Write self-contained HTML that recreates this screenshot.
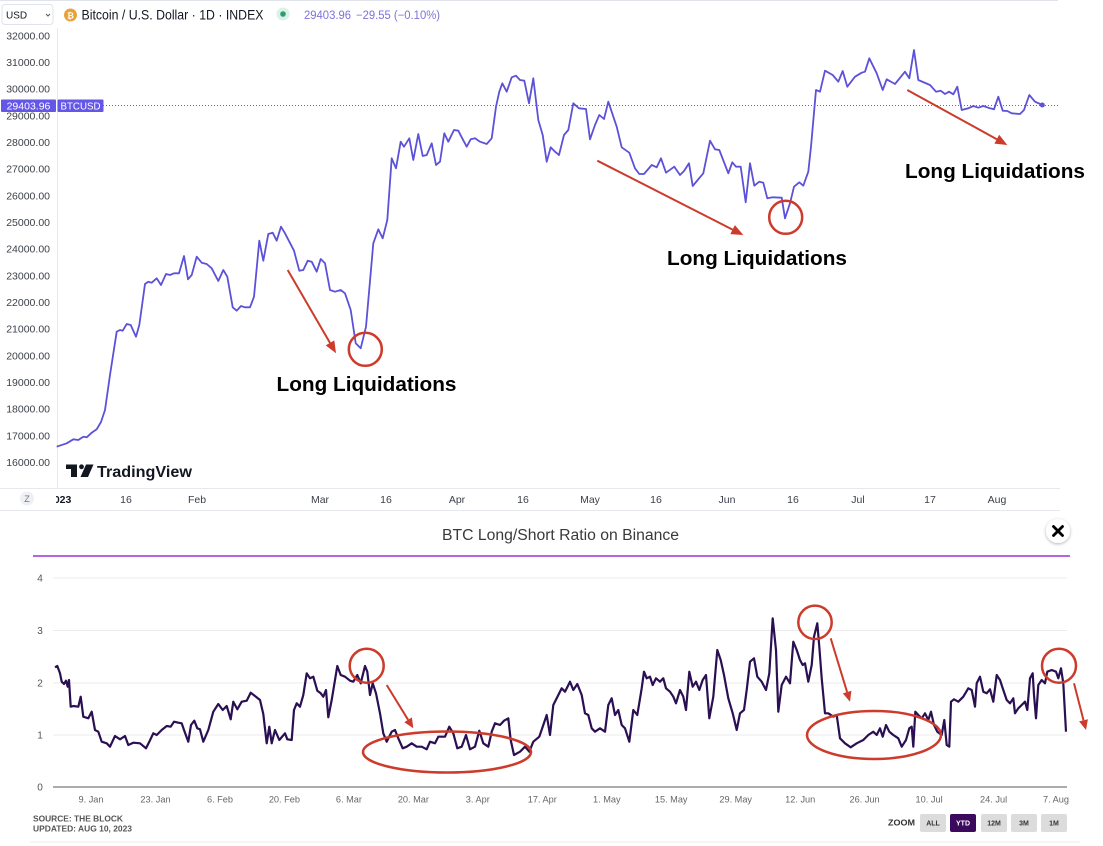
<!DOCTYPE html>
<html><head><meta charset="utf-8">
<style>
html,body{margin:0;padding:0;background:#fff;}
svg{display:block;font-family:"Liberation Sans",Arial,sans-serif;}
</style></head>
<body>
<svg width="1103" height="846" viewBox="0 0 1103 846" xmlns="http://www.w3.org/2000/svg">
<defs>
  <clipPath id="c2023"><rect x="56" y="490" width="40" height="20"/></clipPath>
  <filter id="sh" x="-50%" y="-50%" width="200%" height="200%"><feDropShadow dx="0" dy="1" stdDeviation="1.5" flood-color="#000" flood-opacity="0.3"/></filter>
</defs>
<rect width="1103" height="846" fill="#fff"/>

<!-- ===== TOP CHART ===== -->
<line x1="0" y1="0.5" x2="1058" y2="0.5" stroke="#e0e3eb" stroke-width="1"/>
<!-- header -->
<rect x="2" y="4.5" width="51" height="20" rx="3" fill="#fff" stroke="#e0e3eb"/>
<text x="6" y="18.5" font-size="10" fill="#131722">USD</text>
<path d="M46 14 L48 16 L50 14" fill="none" stroke="#555" stroke-width="1"/>
<circle cx="70.5" cy="15" r="6.5" fill="#e9a23b"/>
<text x="70.5" y="18.5" font-size="8.5" fill="#fff" text-anchor="middle" font-weight="bold">₿</text>
<text x="81.5" y="19.5" font-size="14" fill="#131722" textLength="182" lengthAdjust="spacingAndGlyphs">Bitcoin / U.S. Dollar · 1D · INDEX</text>
<circle cx="283" cy="14" r="6.5" fill="#dcf1e7"/>
<circle cx="283" cy="14" r="2.8" fill="#2e9e6f"/>
<text x="304" y="19" font-size="11.5" fill="#7d72dc" textLength="47" lengthAdjust="spacingAndGlyphs">29403.96</text>
<text x="356" y="19" font-size="11.5" fill="#7d72dc" textLength="84" lengthAdjust="spacingAndGlyphs">−29.55 (−0.10%)</text>

<!-- y axis separator -->
<line x1="57.5" y1="28" x2="57.5" y2="488" stroke="#e6e8ee"/>
<!-- y labels -->
<g font-size="10.5" fill="#3b3f48" text-anchor="end">
<text x="50" y="39.5">32000.00</text>
<text x="50" y="66">31000.00</text>
<text x="50" y="92.7">30000.00</text>
<text x="50" y="119.4">29000.00</text>
<text x="50" y="146">28000.00</text>
<text x="50" y="172.7">27000.00</text>
<text x="50" y="199.4">26000.00</text>
<text x="50" y="226">25000.00</text>
<text x="50" y="252.7">24000.00</text>
<text x="50" y="279.4">23000.00</text>
<text x="50" y="306">22000.00</text>
<text x="50" y="332.7">21000.00</text>
<text x="50" y="359.4">20000.00</text>
<text x="50" y="386">19000.00</text>
<text x="50" y="412.7">18000.00</text>
<text x="50" y="439.4">17000.00</text>
<text x="50" y="466">16000.00</text>
</g>

<!-- dotted price line -->
<line x1="103" y1="105.5" x2="1058" y2="105.5" stroke="#6a5be6" stroke-width="1" stroke-dasharray="1,2"/>
<rect x="1" y="99.5" width="55" height="12.5" rx="1" fill="#6456e6"/>
<text x="28.5" y="109.5" font-size="10.5" fill="#fff" text-anchor="middle">29403.96</text>
<rect x="57.5" y="99.5" width="46" height="12.5" rx="1" fill="#6456e6"/>
<text x="80.5" y="109.3" font-size="10" fill="#fff" text-anchor="middle" textLength="40" lengthAdjust="spacingAndGlyphs">BTCUSD</text>

<!-- price line -->
<polyline fill="none" stroke="#5c51d8" stroke-width="1.8" stroke-linejoin="round" points="56.7,446.7 66.7,443.3 73.3,439.3 78.3,440 83.3,436.7 86.7,437.3 91.7,432.7 96.7,429.3 101,422 105,410 110,375 116.7,331.7 120,330 122.7,330.7 126.7,324 130.7,325 136,336.7 139.3,325 145,284 148.3,281.7 151.7,282.7 156.7,278.3 161,285 166,274 170,275 174,273.3 179,273.3 184,256 188,279.3 191.7,275 196.7,256.7 201.7,262.7 206.7,264 211.7,268.3 218.3,281 223.3,270 227.3,276.7 232.7,307.3 236.7,310.7 241,306 245,307.3 250,307.3 254,296.7 259.3,240.7 263.3,260.7 268.3,234 272.7,232.7 276.7,240.7 281,226.7 285,233.3 294,250.7 299.3,270.7 303.3,270 307.7,260.7 311.7,261.7 316.7,271.7 320.7,259 325,263.3 330,290 335,291.7 340.7,290 345,293.3 350.7,310 355.7,343.3 360.7,348.3 366,326.7 373.3,243.3 378.3,229.3 382.7,238.3 387.3,220 391.7,158.3 396,168.3 400.7,141.7 404,146.7 409.3,138.3 413.3,160 418.3,134 422.7,156 426.7,155 431.7,143.3 436,165 440,161.7 444.3,133.3 448.3,141.7 454,130 458.3,130.7 461.7,137.3 466.7,146.7 470.7,139.3 475,138.3 480,141.7 486.7,144 491.7,138.3 496,106.7 499.3,91.7 502.3,83.3 506.7,91.7 511.7,77.3 516,75.7 520,80 524.3,80.7 529,103.3 533.3,78.3 538.3,120 542.7,135 546.7,161.7 550.7,147.3 555,151.7 559,155 564,135 568.3,130 573.3,103.3 579,108.3 586,109 590,139.3 595,125 599.3,115 604,119 608.3,101.7 616.7,126.7 621.7,147.3 629.3,152.7 635,168.3 639.3,174 644,174 651.7,165 656.7,167.3 661,158.3 666,172.7 674.3,166.7 680,175 684,171 689,163.3 692.7,186 703.3,173.3 710,140.7 715,149.3 719.3,150 728.3,173.3 732.3,162.3 736,166.7 740.7,166.7 745.7,202.3 750,163.3 754.3,185.7 759.3,181.7 763.3,182.7 767.3,198.3 772.7,197.3 781.7,197.7 785,218.3 790,203.3 794,186.7 799.3,182.3 803.3,185.7 808.3,171.7 811,146.7 816,90 820,91.7 825,70.7 832.7,75 838.3,81.7 842.7,71 847.3,86.7 855,76.7 861.7,72.7 865,71.7 869.3,58.3 876.7,73.3 882.7,90 886.7,79.3 895,84 905,71.7 909.3,78.3 914,50 918.3,80 930,85 936,91.7 940.7,90.7 945,94 949,91.7 953.3,94.3 957.3,86.7 961.7,110 968.3,108.3 973.3,106 978.3,107.7 983.3,106 990,108.3 994,109.3 998.3,96.7 1002.7,110.7 1007.3,111 1011.7,113.3 1020,114 1024,110 1029.3,95 1035,101.7 1042.3,105"/>
<circle cx="1042.3" cy="105" r="2.5" fill="#5c51d8"/>

<!-- top annotations -->
<g stroke="#cc3b2b" fill="none">
<line x1="287.7" y1="270" x2="330" y2="342.9" stroke-width="2"/>
<line x1="597.3" y1="160.7" x2="732.6" y2="229.6" stroke-width="2"/>
<line x1="907.3" y1="90" x2="996.8" y2="139.2" stroke-width="2"/>
<circle cx="365.3" cy="349.3" r="16.5" stroke-width="2.5"/>
<circle cx="785.7" cy="217.3" r="16.5" stroke-width="2.5"/>
</g>
<g fill="#cc3b2b">
<polygon points="336,353.3 325.7,345.4 334.3,340.4"/>
<polygon points="743.3,235 730.3,234.1 734.9,225.1"/>
<polygon points="1007.3,145 994.4,143.6 999.2,134.8"/>
</g>
<g font-size="20" font-weight="bold" fill="#000">
<text x="276.5" y="391" textLength="180" lengthAdjust="spacingAndGlyphs">Long Liquidations</text>
<text x="667" y="265" textLength="180" lengthAdjust="spacingAndGlyphs">Long Liquidations</text>
<text x="905" y="178" textLength="180" lengthAdjust="spacingAndGlyphs">Long Liquidations</text>
</g>

<!-- TradingView logo -->
<g fill="#131722">
<rect x="66" y="464.5" width="11" height="4.5"/>
<rect x="71" y="464.5" width="6" height="12.5"/>
<circle cx="81.5" cy="466.8" r="2.4"/>
<polygon points="86,464.5 93.5,464.5 88,477 80.5,477"/>
</g>
<text x="97" y="477" font-size="16" font-weight="bold" fill="#131722" textLength="95" lengthAdjust="spacingAndGlyphs">TradingView</text>

<!-- time axis -->
<line x1="0" y1="488.5" x2="1060" y2="488.5" stroke="#e6e8ee"/>
<line x1="0" y1="510.5" x2="1060" y2="510.5" stroke="#e6e8ee"/>
<circle cx="27" cy="498.5" r="7" fill="#eef0f5"/>
<text x="27" y="502" font-size="9" fill="#777" text-anchor="middle">Z</text>
<g clip-path="url(#c2023)"><text x="48" y="503" font-size="10.5" font-weight="bold" fill="#131722">2023</text></g>
<g font-size="10.5" fill="#3b3f48" text-anchor="middle">
<text x="126" y="503">16</text>
<text x="197" y="503">Feb</text>
<text x="320" y="503">Mar</text>
<text x="386" y="503">16</text>
<text x="457" y="503">Apr</text>
<text x="523" y="503">16</text>
<text x="590" y="503">May</text>
<text x="656" y="503">16</text>
<text x="727" y="503">Jun</text>
<text x="793" y="503">16</text>
<text x="858" y="503">Jul</text>
<text x="930" y="503">17</text>
<text x="997" y="503">Aug</text>
</g>

<!-- ===== BOTTOM CHART ===== -->
<text x="560.5" y="540" font-size="15.5" fill="#3a3a3a" text-anchor="middle" textLength="237" lengthAdjust="spacingAndGlyphs">BTC Long/Short Ratio on Binance</text>
<line x1="33" y1="556" x2="1070" y2="556" stroke="#9b32d6" stroke-width="1.5"/>
<circle cx="1058" cy="531" r="12" fill="#fff" filter="url(#sh)"/>
<path d="M1053.5 526.5 L1062.5 535.5 M1062.5 526.5 L1053.5 535.5" stroke="#000" stroke-width="2.8" stroke-linecap="round"/>

<!-- grid -->
<g stroke="#ebebeb" stroke-width="1">
<line x1="53" y1="578" x2="1067" y2="578"/>
<line x1="53" y1="630.5" x2="1067" y2="630.5"/>
<line x1="53" y1="683" x2="1067" y2="683"/>
<line x1="53" y1="735" x2="1067" y2="735"/>
</g>
<line x1="53" y1="787" x2="1067" y2="787" stroke="#7a7a7a" stroke-width="1.3"/>
<g font-size="10" fill="#555" text-anchor="middle">
<text x="40" y="581.5">4</text>
<text x="40" y="634">3</text>
<text x="40" y="686.5">2</text>
<text x="40" y="738.5">1</text>
<text x="40" y="790.5">0</text>
</g>
<g font-size="9.2" fill="#666" text-anchor="middle">
<text x="91" y="802.5">9. Jan</text>
<text x="155.5" y="802.5">23. Jan</text>
<text x="220" y="802.5">6. Feb</text>
<text x="284.4" y="802.5">20. Feb</text>
<text x="348.9" y="802.5">6. Mar</text>
<text x="413.4" y="802.5">20. Mar</text>
<text x="477.8" y="802.5">3. Apr</text>
<text x="542.3" y="802.5">17. Apr</text>
<text x="606.8" y="802.5">1. May</text>
<text x="671.2" y="802.5">15. May</text>
<text x="735.7" y="802.5">29. May</text>
<text x="800.2" y="802.5">12. Jun</text>
<text x="864.6" y="802.5">26. Jun</text>
<text x="929.1" y="802.5">10. Jul</text>
<text x="993.6" y="802.5">24. Jul</text>
<text x="1056" y="802.5">7. Aug</text>
</g>

<!-- ratio line -->
<polyline fill="none" stroke="#2a0f52" stroke-width="2.2" stroke-linejoin="round" points="55,667.3 57.3,666 60,673.3 61.7,681.7 64,684 66,680.7 67.7,686.7 69,680 70.7,706.7 73.3,706 78.3,706.7 80.7,696.7 83.3,716.7 88.3,718.3 91.7,711.7 95,730 98.3,731.7 101.7,741.7 106.7,743.3 110,746.7 115,736 120,739.3 125,736 128.3,745 133.3,742.7 140,743.3 146,748.3 149.3,741.7 153.3,733.3 156.7,735 161.7,730 166.7,726 170.7,726.7 174,721.7 178.3,722.7 181.7,723.3 184,730 188.3,741.7 191,725 194.3,720.7 197.3,728.3 200,729.3 203.3,741.7 208.3,730 213.3,711.7 218.3,704 222.7,710 226.7,706 230.7,719.3 233.3,701.7 237.3,709.3 241.7,701.7 246.7,700.7 250.7,692.7 255,696 260,700 263.3,714 266.7,743.3 269.3,726.7 271.7,743.3 275,730 279.3,740 285,733.3 287.3,739.3 291.7,740 294,710 296.7,703.3 300,706.7 303.3,695 306.7,673.3 310,678.3 313.3,676.7 317.3,690.7 320.7,693.3 323.3,696.7 326,690 328.3,717.3 331.7,700 335,680 337.3,666 340.7,675 345,676.7 350,680.7 353.3,681.7 357.3,675 360.7,683.3 365,666 367.3,671.7 370,695 372.7,683.3 376,693.3 380,713.3 383.3,733.3 386.7,741.7 391.7,731.7 395,730 398.3,738.3 402.7,748.3 406.7,746.7 411.7,743.3 416.7,746.7 421.7,746.7 426.7,749.3 430,741.7 435,743.3 438.3,736.7 445,736.7 449.3,726.7 453.3,733.3 457.3,748.3 461.7,746.7 466,735 470,749.3 475,746.7 479.3,730.7 483.3,743.3 488.3,746.7 491.7,731.7 495,723.3 500,725 504,720.7 508.3,718.3 510.7,740 514,755 520,751.7 525,746.7 529.3,751.7 533.3,741.7 539.3,736.7 543.3,725 546.7,715 550,735 553.3,705 556.7,698.3 561.7,688.3 565,691.7 570,681.7 573.3,690 577.3,684 581.7,695 585,713.3 588.3,715 591.7,728.3 595,731.7 600,728.3 605,731.7 608.3,705 611.7,698.3 615,715 618.3,710 621.7,725 625,728.3 629.3,741.7 633.3,710 637.3,715 641.7,688.3 644,671.7 646.7,678.3 650,676.7 652.7,685 656,678.3 660,681.7 663.3,678.3 666,688.3 670,691.7 673.3,696.7 676,703.3 680,690 683.3,696.7 686,710 689.3,671.7 692.7,686.7 696,681.7 699.3,690 702.7,680 706,675 709.3,718.3 713.3,696.7 717.3,650 720.7,660 724,675 728.3,698.3 732.7,713.3 736.7,730 740,713.3 744,710 746.7,690 750,661.7 754,658.3 757.3,676.7 761.7,681.7 766,690 769.3,673.3 772.7,618.3 776,650 778.3,711.7 781.7,685 786,676.7 790,683.3 793.3,641.7 796.7,650 800,660 802.7,665 805,663.3 808.3,681.7 811.7,665 814,636.7 817.3,623.3 819.3,646.7 821.7,678.3 825,713.3 828.3,713.3 833.3,716.7 836.7,715 840,738.3 845,743.3 850.7,747.3 856.7,743.3 863.3,740 868.3,735 873.3,731.7 876.7,735 880,728.3 882.7,736.7 886,725 889.3,731.7 893.3,735 898.3,738.3 901.7,746.7 906,740 909.3,728.3 911.7,726.7 913.3,746.7 915.3,711.7 918.3,715 921.7,718.3 925,713.3 928.3,720 931,711.7 934,725 937.3,731.7 941.7,735 944.3,720 946.7,745 949.3,746.7 951,701.7 954,699.3 958.3,701.7 963.3,696.7 968.3,688.3 971.7,690 975,706.7 976.7,683.3 980,676.7 983.3,691.7 986.7,693.3 990,689.3 993.3,701.7 996.7,675 1000,680 1003.3,690 1006.7,700 1010,703.3 1013.3,698.3 1015,713.3 1018.3,708.3 1021.7,705 1025,701.7 1027.3,710 1030,678.3 1032.7,673.3 1034,695 1036,718.3 1038.3,685 1041.7,680 1045,683.3 1047.3,671.7 1051.7,670 1056,671.7 1058.3,678.3 1061,668.3 1063.3,683.3 1066,731.7"/>

<!-- bottom annotations -->
<g stroke="#cc3b2b" fill="none" stroke-width="2.5">
<circle cx="366.7" cy="665.7" r="17"/>
<circle cx="815" cy="622.3" r="16.7"/>
<circle cx="1059" cy="665.7" r="17"/>
<ellipse cx="447" cy="752" rx="84" ry="20.5"/>
<ellipse cx="874" cy="735" rx="67" ry="24"/>
<line x1="386.7" y1="685" x2="408.1" y2="719.8" stroke-width="2"/>
<line x1="830.7" y1="638.3" x2="847.1" y2="692.1" stroke-width="2"/>
<line x1="1074" y1="683.3" x2="1083.5" y2="720.3" stroke-width="2"/>
</g>
<g fill="#cc3b2b">
<polygon points="413.3,728.3 404.3,722.2 411.9,717.4"/>
<polygon points="850,701.7 842.8,693.4 851.4,690.8"/>
<polygon points="1086,730 1079.1,721.4 1087.9,719.2"/>
</g>

<!-- footer -->
<g font-size="8.4" font-weight="bold" fill="#555">
<text x="33" y="821.3" textLength="90" lengthAdjust="spacingAndGlyphs">SOURCE: THE BLOCK</text>
<text x="33" y="831.3" textLength="99" lengthAdjust="spacingAndGlyphs">UPDATED: AUG 10, 2023</text>
</g>
<text x="888" y="825.5" font-size="8.5" font-weight="bold" fill="#333" textLength="27" lengthAdjust="spacingAndGlyphs">ZOOM</text>
<g>
<rect x="920" y="814" width="26" height="18" rx="2" fill="#dcdcdc"/>
<rect x="950" y="814" width="26" height="18" rx="2" fill="#3c0a5c"/>
<rect x="981" y="814" width="26" height="18" rx="2" fill="#dcdcdc"/>
<rect x="1011" y="814" width="26" height="18" rx="2" fill="#dcdcdc"/>
<rect x="1041" y="814" width="26" height="18" rx="2" fill="#dcdcdc"/>
</g>
<g font-size="7" font-weight="bold" text-anchor="middle" fill="#333">
<text x="933" y="825.5">ALL</text>
<text x="963" y="825.5" fill="#fff">YTD</text>
<text x="994" y="825.5">12M</text>
<text x="1024" y="825.5">3M</text>
<text x="1054" y="825.5">1M</text>
</g>
<line x1="30" y1="842" x2="1080" y2="842" stroke="#eeeeee" stroke-width="1"/>
</svg>
</body></html>
